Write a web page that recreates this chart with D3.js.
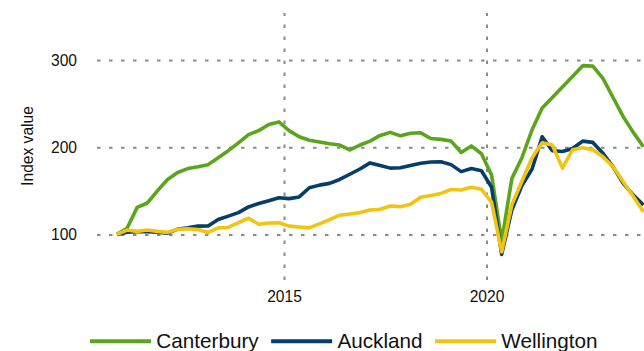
<!DOCTYPE html>
<html>
<head>
<meta charset="utf-8">
<script src="https://cdn.jsdelivr.net/npm/d3@7"></script>
<style>
  html, body { margin: 0; padding: 0; background: #fff; }
  svg { display: block; font-family: "Liberation Sans", Arial, sans-serif; }
</style>
</head>
<body>
<svg id="chart" width="644" height="351"></svg>
<script>
// Quarterly index (2010 Q4 = 100)
const quarters = [
  "2010 Q4",
  "2011 Q1","2011 Q2","2011 Q3","2011 Q4",
  "2012 Q1","2012 Q2","2012 Q3","2012 Q4",
  "2013 Q1","2013 Q2","2013 Q3","2013 Q4",
  "2014 Q1","2014 Q2","2014 Q3","2014 Q4",
  "2015 Q1","2015 Q2","2015 Q3","2015 Q4",
  "2016 Q1","2016 Q2","2016 Q3","2016 Q4",
  "2017 Q1","2017 Q2","2017 Q3","2017 Q4",
  "2018 Q1","2018 Q2","2018 Q3","2018 Q4",
  "2019 Q1","2019 Q2","2019 Q3","2019 Q4",
  "2020 Q1","2020 Q2","2020 Q3","2020 Q4",
  "2021 Q1","2021 Q2","2021 Q3","2021 Q4",
  "2022 Q1","2022 Q2","2022 Q3","2022 Q4",
  "2023 Q1","2023 Q2","2023 Q3","2023 Q4"
];

const canterbury = [
  100,
  107, 131, 136, 150,
  163, 171, 175.5, 177.5,
  180, 188, 196, 205,
  214.5, 219, 226, 229,
  219, 212, 208, 206,
  204, 202.5, 197, 202.5,
  207, 213.5, 217, 213,
  216, 216.5, 210, 209,
  207, 194, 201.5, 192.5,
  168, 92, 164, 188,
  220, 245, 257, 269,
  281, 293.5, 293, 279,
  257, 235, 217, 200.5
];

const auckland = [
  100,
  102.4, 103, 103, 102.4,
  101.5, 106, 107.5, 109.5,
  109.6, 117, 121, 125,
  131.5, 135.5, 138.7, 142,
  141, 143, 153.5, 156.5,
  158.5, 163, 169, 175,
  182, 179, 176, 176.5,
  179, 181.5, 183, 183.4,
  180, 172, 175.5, 173,
  154, 77, 128, 156,
  175, 212, 196, 195,
  198.5, 207, 205.5, 193,
  177.5, 158.5, 145, 133.7
];

const wellington = [
  100,
  105, 103.5, 105, 103.5,
  102.3, 105.8, 106.5, 105.5,
  102.3, 107.5, 108, 113.4,
  118.5, 111.6, 113, 113.4,
  109.5, 108.5, 107.5, 112,
  117, 122, 123.4, 125,
  128, 128.8, 132.6, 131.8,
  134.5, 142.5, 144.5, 147,
  151.5, 151, 154, 151.7,
  137, 80, 134, 161,
  188, 205, 202.5, 176,
  197, 199.5, 197, 189,
  177.5, 160.4, 143.5, 126
];

const seriesNames = ["Canterbury", "Auckland", "Wellington"];
const seriesValues = [canterbury, auckland, wellington];
const seriesColors = ["#5ba51d", "#063d69", "#f2c412"];

const yTicks = [100, 200, 300];
const xTicks = [2015, 2020];
const yLabel = "Index value";

// quarter label -> decimal year at the middle of the quarter
function quarterMid(label) {
  const [yr, q] = label.split(" Q");
  return +yr + (+q - 1) / 4 + 0.125;
}

const svg = d3.select("#chart");
const H = 351;
const plot = { left: 97, right: 644, top: 13, bottom: 280 };

const x = d3.scaleLinear().domain([2015, 2020]).range([284, 486.5]);
const y = d3.scaleLinear().domain([100, 300]).range([234.4, 60]);

const FONT = 15.6;

// horizontal grid + y labels
const yAxis = svg.append("g")
  .attr("transform", `translate(${plot.left},0)`)
  .call(d3.axisLeft(y).tickValues(yTicks).tickSize(-(plot.right - plot.left)).tickPadding(20));
yAxis.select(".domain").remove();
yAxis.selectAll(".tick line")
  .attr("stroke", "#8a8a8a").attr("stroke-width", 2).attr("stroke-dasharray", "3.5,8.5");
yAxis.selectAll(".tick text")
  .attr("fill", "#111").style("font-size", FONT + "px").style("font-family", "Liberation Sans, Arial, sans-serif");

// vertical grid + x labels
const xAxis = svg.append("g")
  .attr("transform", `translate(0,${plot.bottom})`)
  .call(d3.axisBottom(x).tickValues(xTicks).tickFormat(d3.format("d"))
    .tickSize(-(plot.bottom - plot.top)).tickPadding(10.5));
xAxis.select(".domain").remove();
xAxis.selectAll(".tick line")
  .attr("stroke", "#8a8a8a").attr("stroke-width", 2).attr("stroke-dasharray", "3.5,8.5");
xAxis.selectAll(".tick text")
  .attr("fill", "#111").style("font-size", FONT + "px").style("font-family", "Liberation Sans, Arial, sans-serif");

// y axis title
svg.append("text")
  .attr("transform", "translate(33,146) rotate(-90)")
  .attr("text-anchor", "middle")
  .attr("fill", "#111")
  .style("font-size", FONT + "px")
  .text(yLabel);

// lines
const line = d3.line()
  .x((d, i) => x(quarterMid(quarters[i])))
  .y(d => y(d))
  .curve(d3.curveLinear);

svg.append("defs").append("clipPath").attr("id", "plotclip")
  .append("rect").attr("x", 0).attr("y", 0).attr("width", plot.right).attr("height", H);

const lines = svg.append("g").attr("clip-path", "url(#plotclip)");
seriesValues.forEach((vals, k) => {
  lines.append("path")
    .datum(vals)
    .attr("fill", "none")
    .attr("stroke", seriesColors[k])
    .attr("stroke-width", 3.6)
    .attr("stroke-linejoin", "round")
    .attr("d", line);
});

// legend
const legend = svg.append("g");
const LEG_FONT = 20.7;
const SWATCH = 61, SWATCH_GAP = 5.3, ITEM_GAP = 12.5;
let lx = 90;
const ly = 341.3;
seriesNames.forEach((name, k) => {
  legend.append("line")
    .attr("x1", lx).attr("x2", lx + SWATCH)
    .attr("y1", ly).attr("y2", ly)
    .attr("stroke", seriesColors[k]).attr("stroke-width", 4);
  const t = legend.append("text")
    .attr("x", lx + SWATCH + SWATCH_GAP).attr("y", 348.2)
    .attr("fill", "#111")
    .style("font-size", LEG_FONT + "px")
    .text(name);
  lx = lx + SWATCH + SWATCH_GAP + t.node().getComputedTextLength() + ITEM_GAP;
});
</script>
</body>
</html>
